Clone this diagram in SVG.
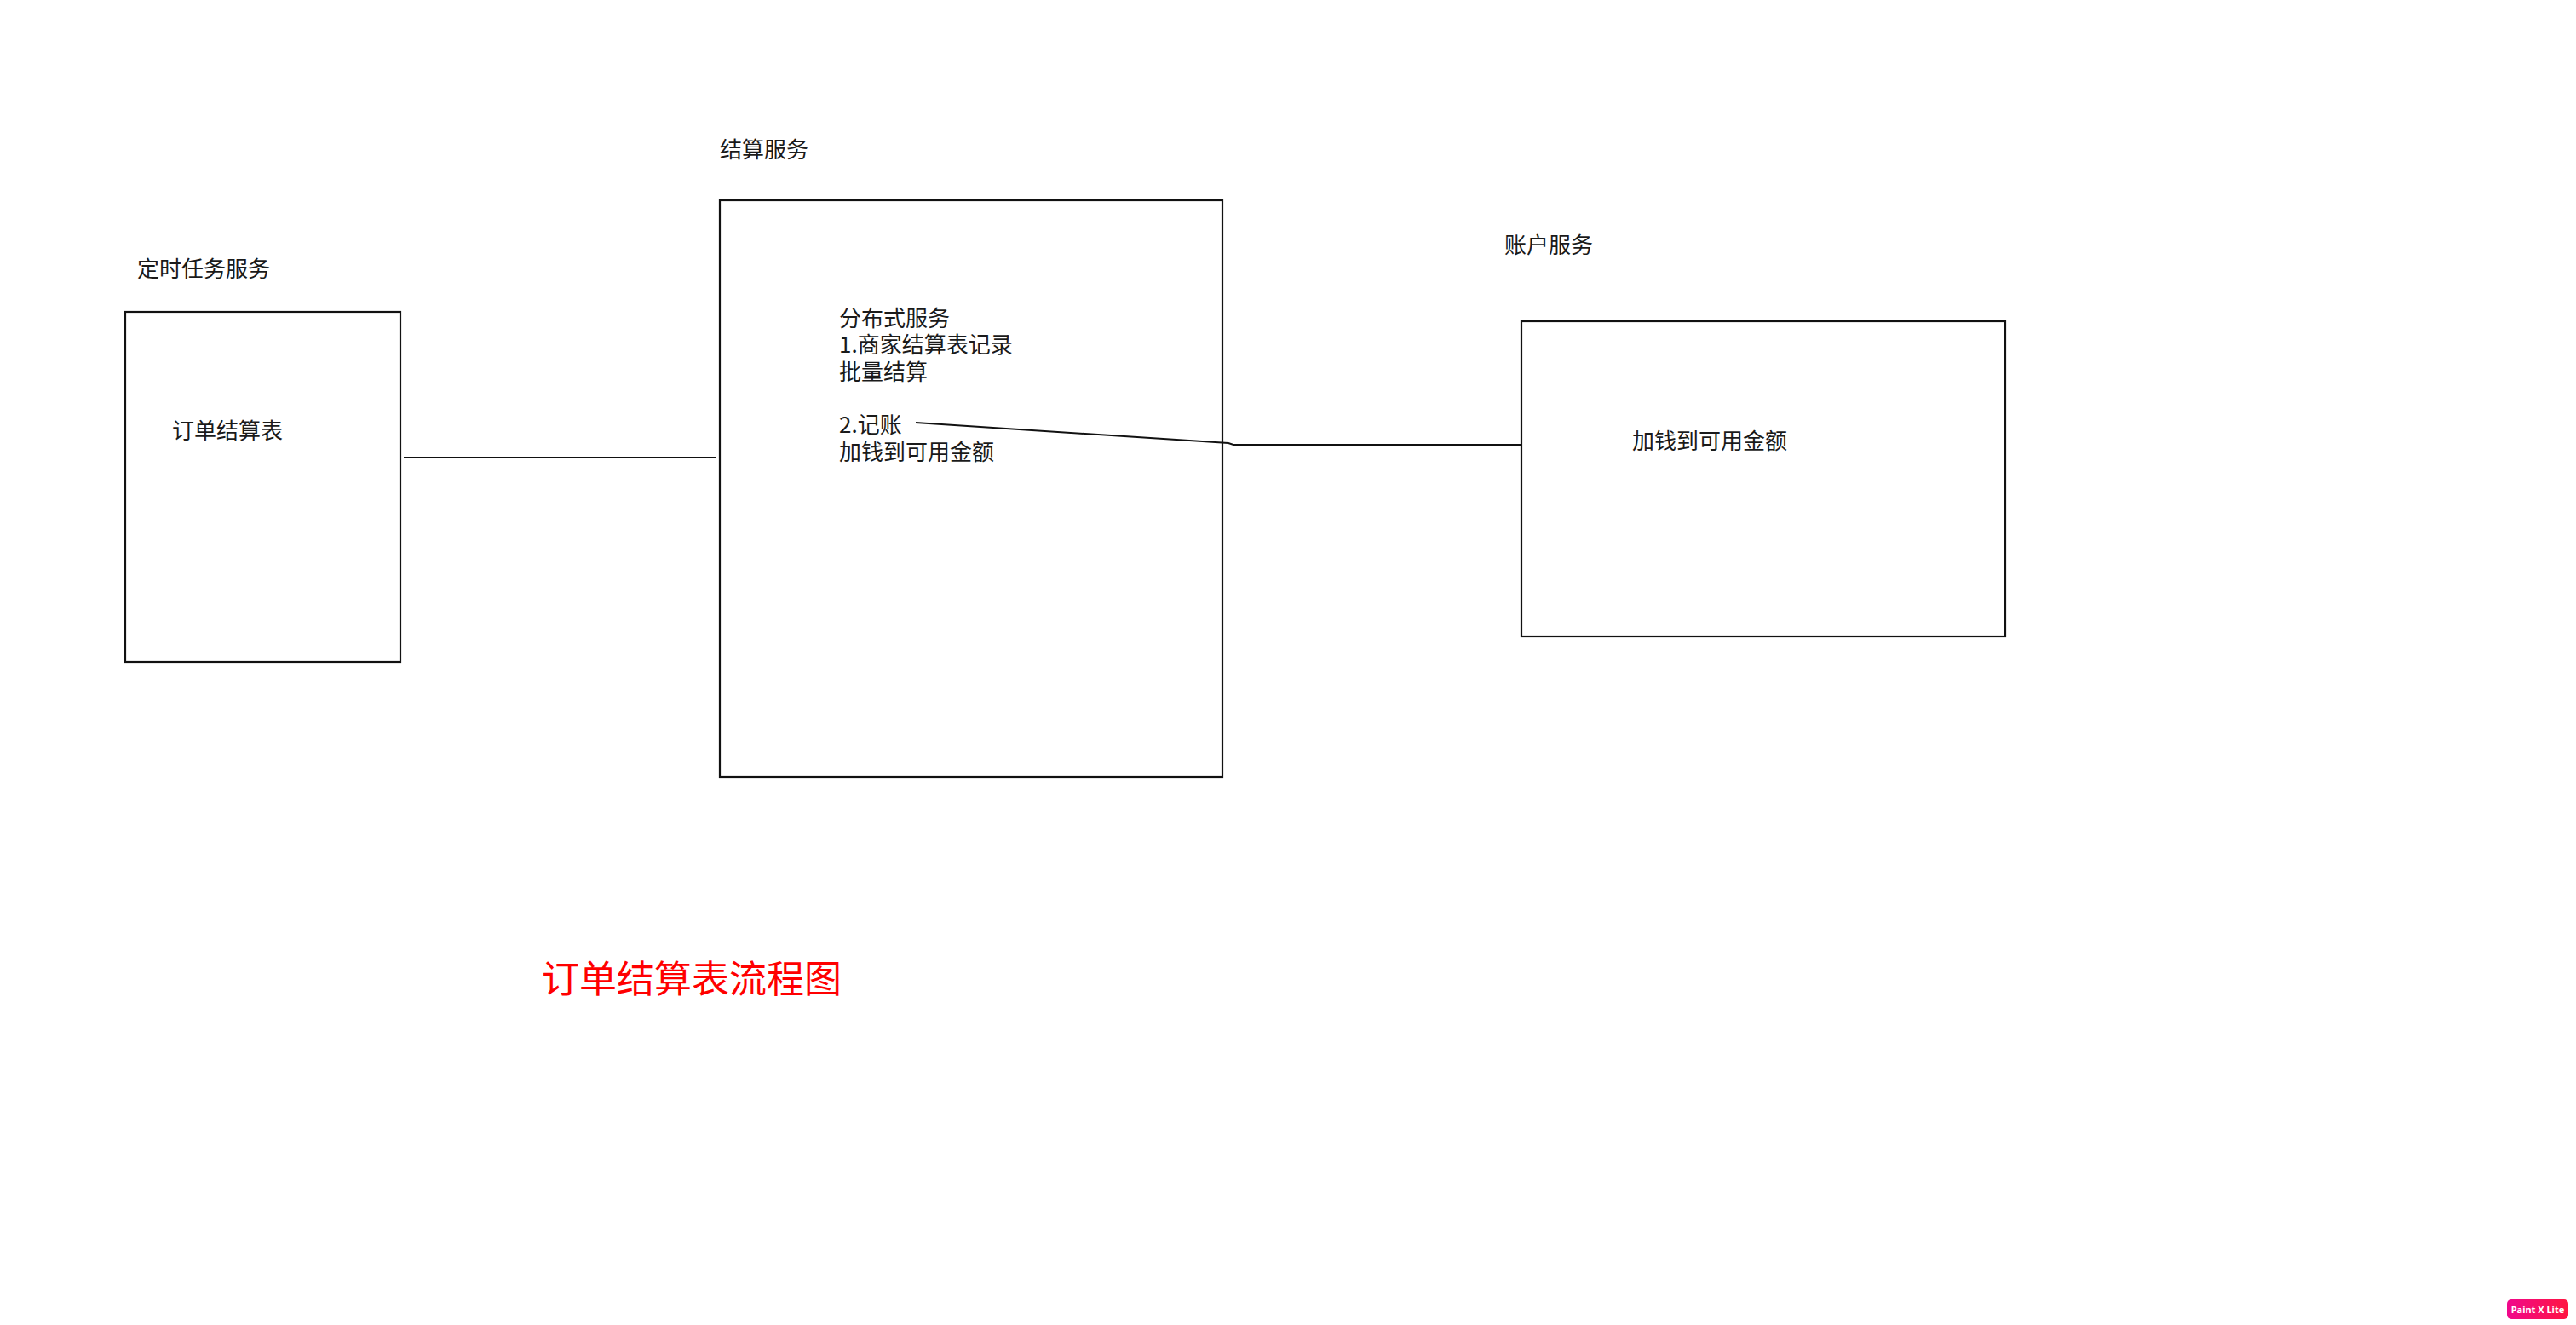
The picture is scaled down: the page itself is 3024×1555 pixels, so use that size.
<svg xmlns="http://www.w3.org/2000/svg" width="3024" height="1555" viewBox="0 0 3024 1555">
  <defs>
    <linearGradient id="badgeGrad" x1="0" y1="0" x2="1" y2="0">
      <stop offset="0" stop-color="#f0088c"/>
      <stop offset="1" stop-color="#ff1540"/>
    </linearGradient>
  </defs>
  <style>
    .box { fill: #ffffff; stroke: #111111; stroke-width: 2.2; }
    .lbl { font-family: "Noto Sans CJK SC", "Noto Sans", sans-serif; font-size: 26px; fill: #1a1a1a; }
    .conn { fill: none; stroke: #111111; stroke-width: 2; }
    .title { font-family: "Noto Sans CJK SC", "Noto Sans", sans-serif; font-size: 44px; fill: #ff0000; }
    .badge { font-family: "Noto Sans", "DejaVu Sans", sans-serif; font-size: 11px; font-weight: bold; fill: #ffffff; }
  </style>
  <rect x="0" y="0" width="3024" height="1555" fill="#ffffff"/>

  <g id="node-timer">
    <text class="lbl" x="161" y="325">定时任务服务</text>
    <rect class="box" x="147" y="366" width="323" height="411"/>
    <text class="lbl" x="202" y="515">订单结算表</text>
  </g>

  <g id="node-settle">
    <text class="lbl" x="845" y="185">结算服务</text>
    <rect class="box" x="845" y="235" width="590" height="677"/>
    <text class="lbl" x="985" y="383">分布式服务</text>
    <text class="lbl" x="985" y="414">1.商家结算表记录</text>
    <text class="lbl" x="985" y="446">批量结算</text>
    <text class="lbl" x="985" y="508">2.记账</text>
    <text class="lbl" x="985" y="540">加钱到可用金额</text>
  </g>

  <g id="node-account">
    <text class="lbl" x="1766" y="297">账户服务</text>
    <rect class="box" x="1786" y="377" width="568" height="370"/>
    <text class="lbl" x="1916" y="527">加钱到可用金额</text>
  </g>

  <g id="connectors">
    <line class="conn" x1="474" y1="537" x2="841" y2="537"/>
    <polyline class="conn" points="1075,496 1442,520 1448,522 1786,522"/>
  </g>

  <g id="caption">
    <text class="title" x="636" y="1165">订单结算表流程图</text>
  </g>

  <g id="badge">
    <rect x="2943" y="1525" width="72" height="23" rx="5" fill="url(#badgeGrad)"/>
    <text class="badge" x="2979" y="1540.5" text-anchor="middle">Paint X Lite</text>
  </g>
</svg>
